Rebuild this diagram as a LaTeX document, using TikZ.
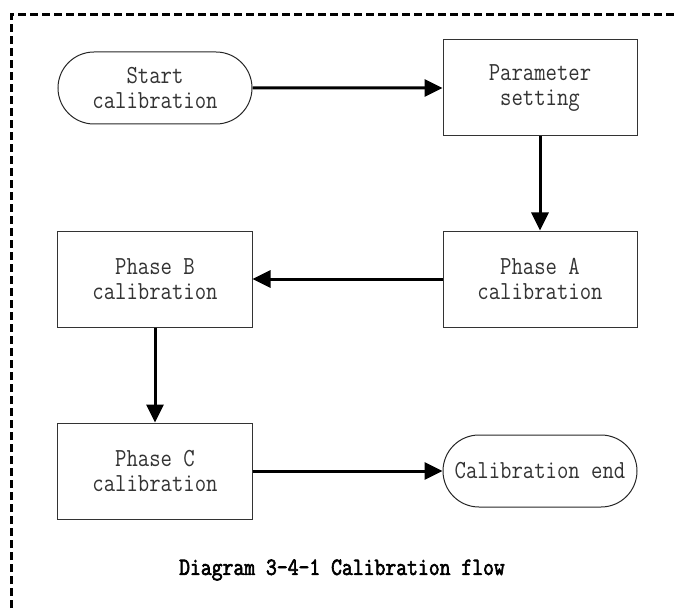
\documentclass[tikz,border=0pt]{standalone}
\usepackage{fontspec}
\usetikzlibrary{shapes.misc,arrows.meta}
\newfontfamily\boxfont[FakeStretch=0.85]{Latin Modern Mono}
\newfontfamily\capfont[FakeStretch=0.85,FakeBold=2.5]{Latin Modern Mono}
\begin{document}
\begin{tikzpicture}[x=1bp,y=-1bp,
  every node/.style={font=\boxfont\fontsize{26bp}{25.5bp}\selectfont, text=black!80, align=center, inner sep=0pt},
  procbox/.style={draw=black!80, line width=1bp, minimum width=194bp, minimum height=96bp},
  termbox/.style={draw=black!85, line width=1bp, rounded rectangle, minimum width=194bp, minimum height=72bp},
  flow/.style={line width=3bp, -{Triangle[length=18bp,width=17bp]}},
  frame/.style={line width=3bp, dash pattern=on 8bp off 4bp}]
\useasboundingbox (0,0) rectangle (676,612);
% outer dashed frame
\draw[frame] (11,620) -- (11,15) -- (680,15);
% flow steps
\node[termbox] (start) at (155,88) {Start\\calibration};
\node[procbox] (param) at (540,88) {Parameter\\setting};
\node[procbox] (phaseA) at (540,279) {Phase A\\calibration};
\node[procbox] (phaseB) at (155,279) {Phase B\\calibration};
\node[procbox] (phaseC) at (155,471) {Phase C\\calibration};
\node[termbox] (stop) at (540,471) {Calibration end};
% connectors
\draw[flow] (start) -- (param);
\draw[flow] (param) -- (phaseA);
\draw[flow] (phaseA) -- (phaseB);
\draw[flow] (phaseB) -- (phaseC);
\draw[flow] (phaseC) -- (stop);
% caption
\node[font=\capfont\fontsize{24.8bp}{25bp}\selectfont, text=black] (caption) at (342,570) {Diagram 3-4-1 Calibration flow};
\end{tikzpicture}
\end{document}
